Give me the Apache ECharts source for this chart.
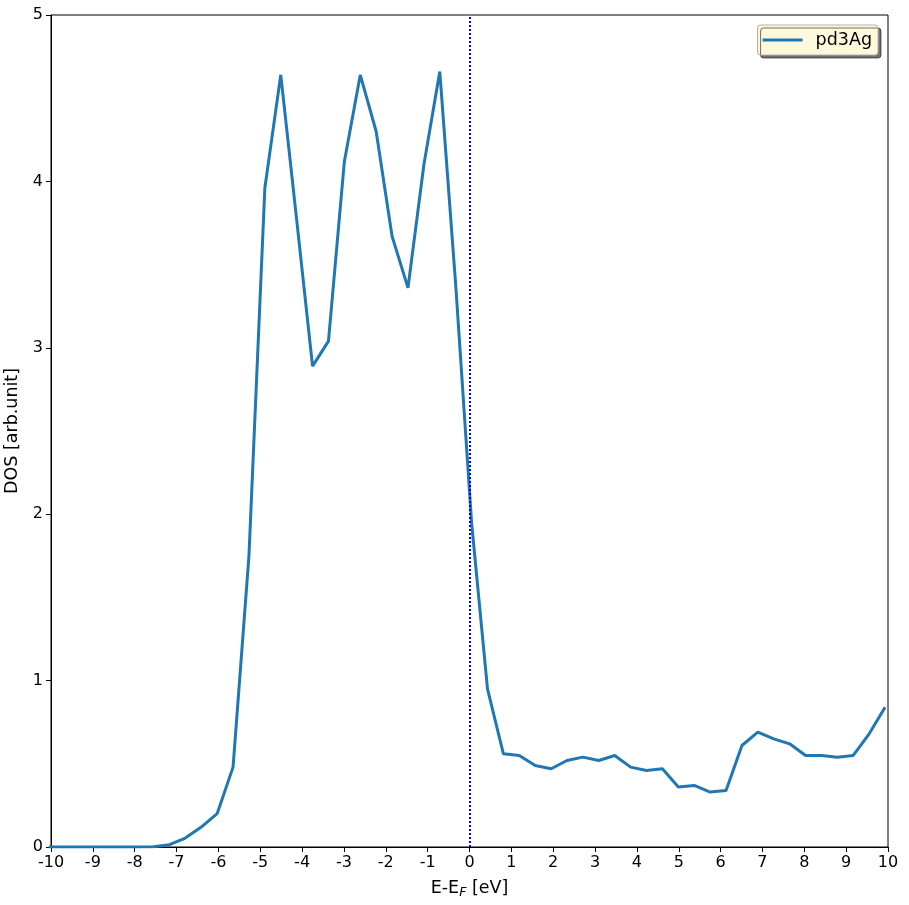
<!DOCTYPE html>
<html>
<head>
<meta charset="utf-8">
<script src="https://cdn.jsdelivr.net/npm/echarts@6/dist/echarts.min.js"></script>
<style>
  html, body { margin: 0; padding: 0; background: #fff; }
  #chart { width: 909px; height: 905px; }
</style>
</head>
<body>
<div id="chart"></div>
<script>
// energy grid (eV, relative to E_F) and DOS values
const energy = [-10.21, -9.83, -9.45, -9.07, -8.69, -8.31, -7.93, -7.55, -7.17, -6.79, -6.41, -6.03, -5.65, -5.27,
  -4.89, -4.51, -4.13, -3.75, -3.37, -2.99, -2.61, -2.23, -1.85, -1.47, -1.09, -0.71, -0.33, 0.05, 0.43, 0.81,
  1.19, 1.57, 1.95, 2.33, 2.71, 3.09, 3.47, 3.85, 4.23, 4.61, 4.99, 5.37, 5.75, 6.13, 6.51, 6.89, 7.27, 7.65,
  8.03, 8.41, 8.79, 9.17, 9.55, 9.93]
const dos = [0, 0, 0, 0, 0, 0, 0, 0.002, 0.014, 0.054, 0.12, 0.20, 0.48, 1.75,
  3.96, 4.64, 3.77, 2.89, 3.04, 4.12, 4.64, 4.30, 3.67, 3.36, 4.10, 4.66, 3.38, 1.95, 0.95, 0.56,
  0.55, 0.49, 0.47, 0.52, 0.54, 0.52, 0.55, 0.48, 0.46, 0.47, 0.36, 0.37, 0.33, 0.34, 0.61, 0.69, 0.65, 0.62,
  0.55, 0.55, 0.54, 0.55, 0.68, 0.84]
const seriesName = 'pd3Ag'
const xTicks = [-10, 10, 1]   // min, max, step
const yTicks = [0, 5, 1]

const font = 'DejaVu Sans'
const chart = echarts.init(document.getElementById('chart'))

const option = {
  animation: false,
  grid: {
    left: 51, right: 21, top: 15, bottom: 58,
    outerBoundsMode: 'none',
    containLabel: false,
    show: true,
    borderColor: '#000',
    borderWidth: 1
  },
  legend: {
    right: 31,
    top: 25,
    data: [seriesName],
    itemWidth: 40,
    itemHeight: 3,
    itemGap: 10,
    padding: [5, 6, 5, 5],
    backgroundColor: '#fff8dc',
    borderColor: '#b0b0b0',
    borderWidth: 1,
    borderRadius: 3,
    shadowColor: 'rgba(0,0,0,0.55)',
    shadowOffsetX: 3,
    shadowOffsetY: 3,
    shadowBlur: 0,
    textStyle: { fontFamily: font, fontSize: 17.5, color: '#000', padding: [0, 0, 0, 8], lineHeight: 20 },
    icon: 'path://M0,0 L40,0 L40,3 L0,3 Z'
  },
  xAxis: {
    type: 'value',
    min: xTicks[0],
    max: xTicks[1],
    interval: xTicks[2],
    name: '{a|E-E}{s|F}{a| [eV]}',
    nameLocation: 'middle',
    nameGap: 30,
    nameTextStyle: {
      rich: {
        a: { fontFamily: font, fontSize: 17.5, color: '#000' },
        s: { fontFamily: font, fontSize: 12.5, fontStyle: 'italic', color: '#000', padding: [9, 0, 0, 0] }
      }
    },
    axisLine: { show: true, onZero: false, lineStyle: { color: '#000', width: 1 } },
    axisTick: { show: true, inside: false, length: 5, lineStyle: { color: '#000' } },
    axisLabel: { fontFamily: font, fontSize: 16, color: '#000', margin: 8 },
    splitLine: { show: false }
  },
  yAxis: {
    type: 'value',
    min: yTicks[0],
    max: yTicks[1],
    interval: yTicks[2],
    name: 'DOS [arb.unit]',
    nameLocation: 'middle',
    nameGap: 24,
    nameTextStyle: { fontFamily: font, fontSize: 17.5, color: '#000' },
    axisLine: { show: true, onZero: false, lineStyle: { color: '#000', width: 1 } },
    axisTick: { show: true, inside: false, length: 5, lineStyle: { color: '#000' } },
    axisLabel: { fontFamily: font, fontSize: 16, color: '#000', margin: 8 },
    splitLine: { show: false }
  },
  series: [
    {
      name: seriesName,
      type: 'line',
      data: energy.map((e, i) => [e, dos[i]]),
      showSymbol: false,
      clip: true,
      lineStyle: { color: '#1f77b4', width: 3 },
      itemStyle: { color: '#1f77b4' },
      markLine: {
        silent: true,
        symbol: 'none',
        label: { show: false },
        lineStyle: { color: '#0000ff', type: [2, 2], width: 2 },
        data: [{ xAxis: 0 }]
      }
    }
  ]
}
chart.setOption(option)
</script>
</body>
</html>
